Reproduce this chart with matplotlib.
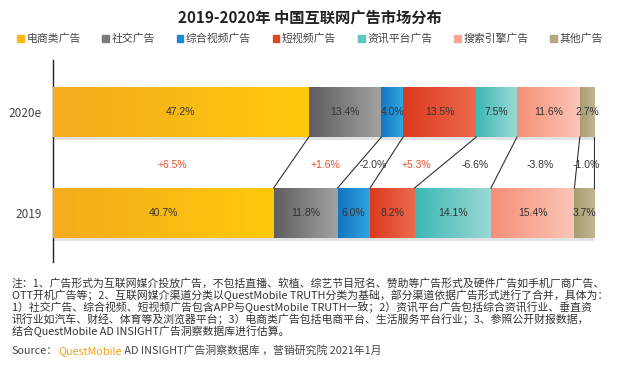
import numpy as np
import matplotlib
matplotlib.use('Agg')
import matplotlib.pyplot as plt
from matplotlib.colors import LinearSegmentedColormap
from matplotlib.patches import Patch

plt.rcParams['font.family'] = ['Noto Sans CJK SC', 'DejaVu Sans']

# data
years = ['2019', '2020e']
categories = ['电商类广告', '社交广告', '综合视频广告', '短视频广告', '资讯平台广告', '搜索引擎广告', '其他广告']
share_2019 = [40.7, 11.8, 6.0, 8.2, 14.1, 15.4, 3.7]
share_2020 = [47.2, 13.4, 4.0, 13.5, 7.5, 11.6, 2.7]
changes = ['+6.5%', '+1.6%', '-2.0%', '+5.3%', '-6.6%', '-3.8%', '-1.0%']

# gradient start / end colours per category
grad_left = ['#f5ab1e', '#5e5e5e', '#1275c0', '#db3a1f', '#3cb8b5', '#f68f76', '#a89d72']
grad_right = ['#ffc90a', '#a2a2a2', '#31a6e2', '#ec6a4c', '#9cd9d6', '#fbc6b8', '#c0b692']
legend_cols = ['#fdb913', '#7a7a7a', '#1a8ad4', '#e0452a', '#5ec7c3', '#f7a892', '#b3a87f']

title = '2019-2020年 中国互联网广告市场分布'
notes = [
    '注：1、广告形式为互联网媒介投放广告，不包括直播、软植、综艺节目冠名、赞助等广告形式及硬件广告如手机厂商广告、',
    'OTT开机广告等；2、互联网媒介渠道分类以QuestMobile TRUTH分类为基础，部分渠道依据广告形式进行了合并，具体为：',
    '1）社交广告、综合视频、短视频广告包含APP与QuestMobile TRUTH一致；2）资讯平台广告包括综合资讯行业、垂直资',
    '讯行业如汽车、财经、体育等及浏览器平台；3）电商类广告包括电商平台、生活服务平台行业；3、参照公开财报数据，',
    '结合QuestMobile AD INSIGHT广告洞察数据库进行估算。',
]

W, H = 620, 368
fig = plt.figure(figsize=(W / 100, H / 100), dpi=100)
ax = fig.add_axes([53 / W, (H - 262) / H, 542 / W, 202 / H])

bar_h = 0.495
ypos = {'2019': 0, '2020e': 1}
data = {'2019': share_2019, '2020e': share_2020}

for yr in years:
    vals = np.array(data[yr])
    lefts = np.concatenate([[0], np.cumsum(vals)[:-1]])
    y = ypos[yr]
    # soft shadow under bar
    ax.barh(y - 0.025, vals.sum(), left=0, height=bar_h, color='#e2e2e2', zorder=1)
    bars = ax.barh(y, vals, left=lefts, height=bar_h, color=grad_left, zorder=2)
    for i, b in enumerate(bars):
        cmap = LinearSegmentedColormap.from_list('g', [grad_left[i], grad_right[i]])
        im = ax.imshow(np.linspace(0, 1, 128).reshape(1, -1), cmap=cmap, aspect='auto',
                       extent=[lefts[i], lefts[i] + vals[i], y - bar_h / 2, y + bar_h / 2],
                       zorder=3)
        im.set_clip_path(b)
        ax.text(lefts[i] + vals[i] / 2, y, f'{vals[i]:.1f}%', ha='center', va='center',
                fontsize=7.5, color='#333333', family='Liberation Sans', zorder=4)

# connector lines and change labels
c19 = np.cumsum(share_2019)
c20 = np.cumsum(share_2020)
for i in range(len(categories)):
    ax.plot([c20[i], c19[i]], [1 - bar_h / 2, bar_h / 2], color='#333333', lw=0.8, zorder=3)
    mid19 = c19[i] - share_2019[i] / 2
    mid20 = c20[i] - share_2020[i] / 2
    col = '#e5502e' if changes[i].startswith('+') else '#333333'
    ax.text((mid19 + mid20) / 2, 0.475, changes[i], ha='center', va='center', fontsize=7.5,
            color=col, family='Liberation Sans', zorder=4)

ax.set_xlim(0, 100)
ax.set_ylim(-0.485, 1.515)
ax.set_yticks([ypos[y] for y in years])
ax.set_yticklabels(years, fontsize=8.5, color='#444444')
ax.tick_params(axis='y', length=0, pad=8)
ax.set_xticks([])
for s in ['top', 'right', 'bottom']:
    ax.spines[s].set_visible(False)
ax.spines['left'].set_color('#222222')
ax.spines['left'].set_linewidth(1)

fig.text(0.5, 1 - 17 / H, title, ha='center', va='center', fontsize=11, fontweight='bold',
         color='#222222')

handles = [Patch(color=c) for c in legend_cols]
fig.legend(handles, categories, loc='center', bbox_to_anchor=(0.5, 1 - 39 / H), ncol=7,
           frameon=False, fontsize=7.8, handlelength=0.6, handleheight=0.6,
           handletextpad=0.25, columnspacing=2.0, labelcolor='#444444')

for k, line in enumerate(notes):
    fig.text(12 / W, 1 - (283 + 12 * k) / H, line, ha='left', va='center', fontsize=7.8,
             color='#333333')

src = fig.text(12 / W, 1 - 351 / H, 'Source：', ha='left', va='center', fontsize=7.8,
               color='#444444')
a1 = ax.annotate('QuestMobile', xy=(1, 0), xycoords=src, va='bottom', ha='left',
                 fontsize=7.8, color='#f5a11c', annotation_clip=False)
ax.annotate(' AD INSIGHT广告洞察数据库 ，营销研究院 2021年1月', xy=(1, 0), xycoords=a1,
            va='bottom', ha='left', fontsize=7.8, color='#444444', annotation_clip=False)

fig.savefig('out.png', dpi=100)
